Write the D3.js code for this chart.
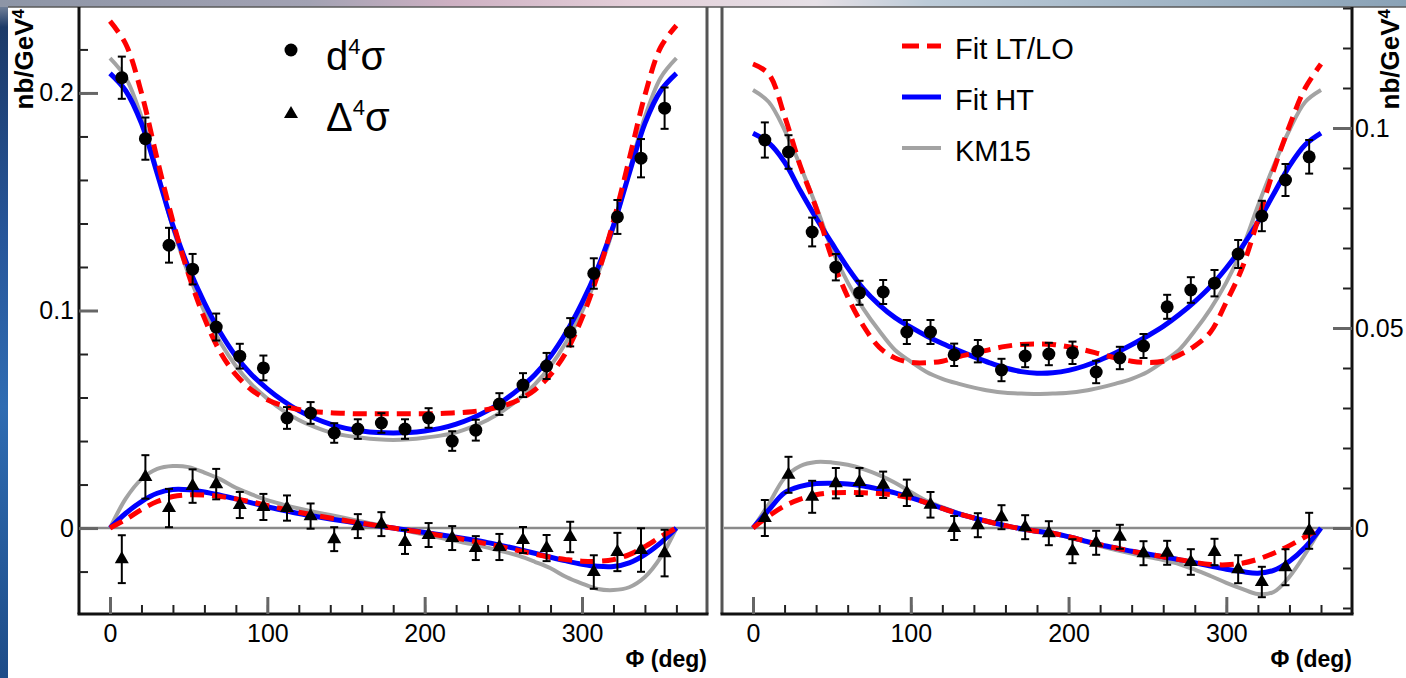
<!DOCTYPE html>
<html>
<head>
<meta charset="utf-8">
<script src="https://cdn.jsdelivr.net/npm/d3@7"></script>
<style>
body { margin: 0; background: #fff; }
svg { display: block; font-family: "Liberation Sans", Arial, Helvetica, sans-serif; }
</style>
</head>
<body>
<svg id="chart" width="1406" height="678"></svg>
<script>
// phi bin centres (deg)
var phiBins = [7.5, 22.5, 37.5, 52.5, 67.5, 82.5, 97.5, 112.5, 127.5, 142.5, 157.5, 172.5,
	187.5, 202.5, 217.5, 232.5, 247.5, 262.5, 277.5, 292.5, 307.5, 322.5, 337.5, 352.5];

// phi grid where the fit curves were read
var phiGrid = [0, 10, 20, 30, 40, 50, 60, 70, 80, 90, 100, 110, 120, 130, 140, 150, 160, 170, 180,
	190, 200, 210, 220, 230, 240, 250, 260, 270, 280, 290, 300, 310, 320, 330, 340, 350, 360];

// left panel : d4sigma points + errors
var leftSig = [0.207, 0.179, 0.130, 0.119, 0.0924, 0.079, 0.0736, 0.0506, 0.0529, 0.0437, 0.0455, 0.0483,
	0.0455, 0.0506, 0.040, 0.045, 0.057, 0.0657, 0.0745, 0.090, 0.117, 0.143, 0.170, 0.193];
var leftSigErr = [0.0097, 0.0097, 0.008, 0.007, 0.0062, 0.0057, 0.0057, 0.005, 0.005, 0.0045, 0.0045, 0.0045,
	0.0045, 0.0045, 0.0045, 0.0048, 0.005, 0.0055, 0.006, 0.0065, 0.007, 0.0078, 0.0088, 0.0095];
// left panel : Delta4sigma points + errors
var leftDel = [-0.0143, 0.0235, 0.0092, 0.0193, 0.0202, 0.0106, 0.0097, 0.0092, 0.0055, -0.0051, 0.0009, 0.0018,
	-0.0064, -0.0032, -0.0046, -0.0092, -0.0087, -0.0055, -0.0092, -0.0041, -0.0202, -0.011, -0.0101, -0.0115];
var leftDelErr = [0.011, 0.010, 0.0088, 0.0077, 0.007, 0.006, 0.006, 0.0058, 0.0058, 0.0055, 0.0055, 0.0055,
	0.0055, 0.0055, 0.0055, 0.0055, 0.006, 0.006, 0.006, 0.007, 0.0077, 0.0088, 0.010, 0.0107];

// left panel curves (d4sigma)
var leftSigLT = [0.233, 0.2225, 0.200, 0.1695, 0.141, 0.1165, 0.0965, 0.081, 0.0705, 0.0635, 0.059, 0.0562, 0.0545,
	0.0535, 0.053, 0.0527, 0.0525, 0.0525, 0.0525, 0.0525, 0.0525, 0.0527, 0.053, 0.0535, 0.0545, 0.0562,
	0.059, 0.0635, 0.0705, 0.081, 0.0965, 0.1165, 0.141, 0.1695, 0.199, 0.221, 0.231];
var leftSigHT = [0.209, 0.201, 0.186, 0.163, 0.139, 0.1195, 0.1035, 0.090, 0.079, 0.0705, 0.064, 0.0585, 0.054,
	0.0505, 0.0478, 0.0458, 0.0446, 0.0439, 0.0437, 0.0439, 0.0446, 0.0458, 0.0478, 0.0505, 0.054, 0.0585,
	0.064, 0.0705, 0.079, 0.090, 0.1035, 0.1195, 0.139, 0.163, 0.186, 0.201, 0.209];
var leftSigKM = [0.216, 0.207, 0.189, 0.164, 0.138, 0.1165, 0.0995, 0.0855, 0.0745, 0.066, 0.0595, 0.054, 0.0497,
	0.0465, 0.044, 0.0425, 0.0415, 0.0408, 0.0405, 0.0408, 0.0415, 0.0425, 0.044, 0.0465, 0.0497, 0.054,
	0.0595, 0.066, 0.0745, 0.0855, 0.0995, 0.1165, 0.138, 0.164, 0.189, 0.207, 0.216];
// left panel curves (Delta4sigma)
var leftDelLT = [0, 0.004, 0.0085, 0.0122, 0.0145, 0.0153, 0.0152, 0.0145, 0.0134, 0.012, 0.0104, 0.0088, 0.0073,
	0.0059, 0.0046, 0.0034, 0.0022, 0.0011, 0, -0.0011, -0.0022, -0.0034, -0.0046, -0.0059, -0.0073, -0.0088,
	-0.0104, -0.012, -0.0134, -0.0145, -0.0152, -0.0153, -0.0145, -0.0122, -0.0085, -0.004, 0];
var leftDelHT = [0, 0.0068, 0.0122, 0.016, 0.0177, 0.0176, 0.0166, 0.0151, 0.0134, 0.0116, 0.0098, 0.0082, 0.0067,
	0.0054, 0.0042, 0.0031, 0.002, 0.001, 0, -0.001, -0.002, -0.0031, -0.0042, -0.0054, -0.0067, -0.0082,
	-0.0098, -0.0116, -0.0134, -0.0151, -0.0166, -0.0176, -0.0177, -0.016, -0.0122, -0.0068, 0];
var leftDelKM = [0, 0.0135, 0.0225, 0.0272, 0.0285, 0.028, 0.0255, 0.0225, 0.0185, 0.0155, 0.0128, 0.0108, 0.009,
	0.0074, 0.006, 0.0045, 0.003, 0.0015, 0, -0.0015, -0.003, -0.0045, -0.006, -0.0074, -0.009, -0.0108,
	-0.0128, -0.0155, -0.0185, -0.0225, -0.0255, -0.028, -0.0285, -0.0272, -0.0225, -0.0135, 0];

// right panel : d4sigma points + errors
var rightSig = [0.097, 0.094, 0.074, 0.0652, 0.0588, 0.059, 0.049, 0.049, 0.0433, 0.0442, 0.0395, 0.043,
	0.0435, 0.0438, 0.039, 0.0425, 0.0455, 0.0553, 0.0595, 0.0612, 0.0685, 0.078, 0.087, 0.0928];
var rightSigErr = [0.0044, 0.0042, 0.0036, 0.0033, 0.003, 0.003, 0.003, 0.003, 0.0028, 0.0028, 0.0028, 0.0028,
	0.0028, 0.0028, 0.0028, 0.0028, 0.003, 0.003, 0.0032, 0.0033, 0.0035, 0.0038, 0.004, 0.0042];
// right panel : Delta4sigma points + errors
var rightDel = [0.0025, 0.0133, 0.0078, 0.0112, 0.0115, 0.0108, 0.0088, 0.0058, 0.0, 0.0007, 0.0027, 0.0002,
	-0.0013, -0.0058, -0.0037, -0.0022, -0.0063, -0.0062, -0.0085, -0.006, -0.0103, -0.0135, -0.0098, -0.0007];
var rightDelErr = [0.0045, 0.0045, 0.004, 0.0038, 0.0035, 0.0033, 0.0033, 0.0032, 0.003, 0.003, 0.003, 0.003,
	0.003, 0.003, 0.003, 0.003, 0.003, 0.003, 0.0032, 0.0033, 0.0035, 0.0038, 0.0045, 0.0045];

// right panel curves (d4sigma)
var rightSigLT = [0.116, 0.1135, 0.103, 0.0905, 0.080, 0.0675, 0.0578, 0.0505, 0.0452, 0.0425, 0.0414, 0.0413, 0.0417,
	0.0428, 0.0437, 0.0446, 0.0454, 0.0459, 0.046, 0.0459, 0.0453, 0.0445, 0.0435, 0.0425, 0.0417, 0.0414,
	0.0417, 0.0432, 0.0455, 0.049, 0.0565, 0.065, 0.077, 0.0895, 0.1005, 0.110, 0.116];
var rightSigHT = [0.0987, 0.0963, 0.0915, 0.0843, 0.0775, 0.0712, 0.0651, 0.0598, 0.0558, 0.0526, 0.0502, 0.048, 0.0461,
	0.0444, 0.0428, 0.0413, 0.040, 0.0391, 0.0387, 0.0388, 0.0394, 0.0405, 0.042, 0.0438, 0.0458, 0.048,
	0.0504, 0.0533, 0.0566, 0.0604, 0.065, 0.0703, 0.0765, 0.0835, 0.0905, 0.0958, 0.0987];
var rightSigKM = [0.1095, 0.1065, 0.0995, 0.0905, 0.0805, 0.0697, 0.0614, 0.0548, 0.0493, 0.0445, 0.0416, 0.039, 0.0373,
	0.0361, 0.0351, 0.0343, 0.0338, 0.0336, 0.0335, 0.0336, 0.0338, 0.0343, 0.0351, 0.0361, 0.0373, 0.039,
	0.0416, 0.0445, 0.0493, 0.0548, 0.0614, 0.0697, 0.0805, 0.0905, 0.0995, 0.1065, 0.1095];
// right panel curves (Delta4sigma)
var rightDelLT = [0, 0.003, 0.0055, 0.0072, 0.0083, 0.0088, 0.0089, 0.0088, 0.0086, 0.0082, 0.0075, 0.0063, 0.0049,
	0.0036, 0.0025, 0.0015, 0.0006, -0.0002, -0.0008, -0.0013, -0.0022, -0.0032, -0.0042, -0.005, -0.0058, -0.0065,
	-0.0072, -0.0079, -0.0086, -0.0091, -0.0092, -0.0088, -0.0078, -0.0063, -0.0044, -0.0022, 0];
var rightDelHT = [0, 0.0045, 0.0088, 0.0104, 0.0111, 0.0112, 0.011, 0.0105, 0.0097, 0.0088, 0.0076, 0.0063, 0.0049,
	0.0036, 0.0025, 0.0015, 0.0006, -0.0002, -0.0008, -0.0013, -0.0022, -0.0032, -0.0042, -0.005, -0.0058, -0.0065,
	-0.0072, -0.0079, -0.0087, -0.0095, -0.0103, -0.0109, -0.0113, -0.0106, -0.0083, -0.0048, 0];
var rightDelKM = [0, 0.006, 0.0125, 0.0155, 0.0165, 0.0164, 0.0158, 0.0147, 0.0132, 0.0113, 0.009, 0.0068, 0.0052,
	0.0038, 0.0026, 0.0015, 0.0006, -0.0002, -0.001, -0.0014, -0.0023, -0.0034, -0.0045, -0.0055, -0.0064, -0.0072,
	-0.008, -0.009, -0.0104, -0.012, -0.0137, -0.0152, -0.0165, -0.016, -0.0122, -0.0065, 0];

// axis ticks
var xMajor = [0, 100, 200, 300];
var xMinor = [0, 20, 40, 60, 80, 100, 120, 140, 160, 180, 200, 220, 240, 260, 280, 300, 320, 340, 360];
var leftYMajor = [0, 0.1, 0.2];
var leftYMinor = [-0.02, 0, 0.02, 0.04, 0.06, 0.08, 0.1, 0.12, 0.14, 0.16, 0.18, 0.2, 0.22];
var rightYMajor = [0, 0.05, 0.1];
var rightYMinor = [-0.02, -0.01, 0, 0.01, 0.02, 0.03, 0.04, 0.05, 0.06, 0.07, 0.08, 0.09, 0.1, 0.11, 0.12, 0.13];

// legend
var markerLabels = ["d", "\u0394"];
var curveLabels = ["Fit LT/LO", "Fit HT", "KM15"];

var RED = "#ff0000", BLUE = "#0000ff", GREY = "#a3a3a3";

Chart =
{
	svg: null,

	init()
	{
		this.svg = d3.select("#chart");
		this.background();

		// left panel, y axis on the left
		var left = {
			x0: 79, x1: 707, top: 7, bottom: 614,
			x: d3.scaleLinear().domain([0, 360]).range([110, 676.4]),
			y: d3.scaleLinear().domain([-0.0395, 0.2395]).range([614, 7]),
			side: "left", yMajor: leftYMajor, yMinor: leftYMinor
		};
		// right panel, y axis on the right
		var right = {
			x0: 722, x1: 1352, top: 7, bottom: 614,
			x: d3.scaleLinear().domain([0, 360]).range([753, 1321]),
			y: d3.scaleLinear().domain([-0.0215, 0.13025]).range([614, 7]),
			side: "right", yMajor: rightYMajor, yMinor: rightYMinor
		};

		this.draw_panel(left);
		this.draw_panel(right);

		this.draw_curves(left, [leftSigKM, leftSigHT, leftSigLT]);
		this.draw_curves(left, [leftDelKM, leftDelHT, leftDelLT]);
		this.draw_curves(right, [rightSigKM, rightSigHT, rightSigLT]);
		this.draw_curves(right, [rightDelKM, rightDelHT, rightDelLT]);

		this.draw_points(left, leftSig, leftSigErr, "circle");
		this.draw_points(left, leftDel, leftDelErr, "triangle");
		this.draw_points(right, rightSig, rightSigErr, "circle");
		this.draw_points(right, rightDel, rightDelErr, "triangle");

		this.draw_marker_legend();
		this.draw_curve_legend();
	},

	background()
	{
		var defs = this.svg.append("defs");
		var top = defs.append("linearGradient").attr("id", "topband");
		[[0, "#8d95a6"], [0.22, "#a2a2b3"], [0.32, "#cdb0c2"], [0.45, "#e4cfd9"], [0.58, "#e6e0e6"],
			[0.66, "#bccbd8"], [0.8, "#a6b9c9"], [1, "#8aa2b6"]].forEach(function(s){
			top.append("stop").attr("offset", s[0]).attr("stop-color", s[1]);
		});
		var side = defs.append("linearGradient").attr("id", "sideband")
			.attr("x1", 0).attr("y1", 0).attr("x2", 0).attr("y2", 1);
		[[0, "#8c96a8"], [0.04, "#1c3a68"], [0.35, "#27569a"], [0.6, "#2f6cb2"], [1, "#1d4c88"]].forEach(function(s){
			side.append("stop").attr("offset", s[0]).attr("stop-color", s[1]);
		});

		this.svg.append("rect").attr("width", 1406).attr("height", 678).attr("fill", "#fff");
		this.svg.append("rect").attr("x", 0).attr("y", 0).attr("width", 8).attr("height", 678).attr("fill", "url(#sideband)");
		this.svg.append("rect").attr("x", 0).attr("y", 0).attr("width", 1406).attr("height", 7).attr("fill", "url(#topband)");
		this.draw_line(8, 7, 1406, 7, "#5a5a5a", 1.5);
	},

	draw_line(x1, y1, x2, y2, color, width)
	{
		this.svg.append("line")
			.attr("x1", x1).attr("y1", y1)
			.attr("x2", x2).attr("y2", y2)
			.attr("stroke", color)
			.attr("stroke-width", width);
	},

	draw_panel(p)
	{
		var svg = this.svg;

		// frame
		this.draw_line(p.x0, p.top, p.x0, p.bottom, p.side == "left" ? "#111" : "#555", 3);
		this.draw_line(p.x1, p.top, p.x1, p.bottom, p.side == "left" ? "#555" : "#111", 3);
		this.draw_line(p.x0 - 1.5, p.bottom, p.x1 + 1.5, p.bottom, "#111", 3);

		// zero line
		this.draw_line(p.x0 + 2, p.y(0), p.x1 - 2, p.y(0), "#8a8a8a", 2.5);

		// x ticks (pointing up)
		var gx = svg.append("g").attr("transform", "translate(0," + p.bottom + ")");
		gx.call(d3.axisBottom(p.x).tickValues(xMinor).tickFormat("").tickSizeInner(-9).tickSizeOuter(0));
		gx.selectAll("line").attr("stroke", "#222").attr("stroke-width", 2);
		var gxm = svg.append("g").attr("transform", "translate(0," + p.bottom + ")");
		gxm.call(d3.axisBottom(p.x).tickValues(xMajor).tickSizeInner(-17).tickSizeOuter(0).tickPadding(10));
		gxm.selectAll("line").attr("stroke", "#666").attr("stroke-width", 3);
		gx.select(".domain").remove();
		gxm.select(".domain").remove();
		gxm.selectAll(".tick text").attr("font-size", 25).attr("fill", "#000")
			.attr("font-family", "Liberation Sans, Arial, sans-serif");

		// y ticks
		var ax = p.side == "left" ? d3.axisLeft : d3.axisRight;
		var yPos = "translate(" + (p.side == "left" ? p.x0 : p.x1) + ",0)";
		var gy = svg.append("g").attr("transform", yPos);
		gy.call(ax(p.y).tickValues(p.yMinor).tickFormat("").tickSizeInner(-9).tickSizeOuter(0));
		gy.selectAll("line").attr("stroke", "#222").attr("stroke-width", 2);
		var gym = svg.append("g").attr("transform", yPos);
		gym.call(ax(p.y).tickValues(p.yMajor).tickFormat(function(d){ return d == 0 ? "0" : String(d); })
			.tickSizeInner(-19).tickSizeOuter(0).tickPadding(p.side == "left" ? 5 : 3));
		gym.selectAll("line").attr("stroke", "#666").attr("stroke-width", 3);
		gy.select(".domain").remove();
		gym.select(".domain").remove();
		gym.selectAll(".tick text").attr("font-size", 25).attr("fill", "#000")
			.attr("font-family", "Liberation Sans, Arial, sans-serif");

		// axis titles
		svg.append("text")
			.attr("x", p.x1).attr("y", 667)
			.attr("text-anchor", "end")
			.attr("font-size", 23).attr("font-weight", "bold")
			.text("\u03a6 (deg)");

		var tx = p.side == "left" ? 33 : 1399;
		var yt = svg.append("text")
			.attr("transform", "translate(" + tx + ",9) rotate(-90)")
			.attr("text-anchor", "end")
			.attr("font-size", 26).attr("font-weight", "bold");
		yt.append("tspan").text("nb/GeV");
		yt.append("tspan").attr("dy", -9).attr("font-size", 17).text("4");
	},

	draw_curves(p, series)
	{
		var line = d3.line()
			.x(function(d, i){ return p.x(phiGrid[i]); })
			.y(function(d){ return p.y(d); })
			.curve(d3.curveCatmullRom);

		var styles = [
			{color: GREY, width: 4, dash: null},
			{color: BLUE, width: 5, dash: null},
			{color: RED, width: 5, dash: "14,8"}
		];
		for (let k = 0; k < series.length; k++){
			this.svg.append("path")
				.datum(series[k])
				.attr("d", line)
				.attr("fill", "none")
				.attr("stroke", styles[k].color)
				.attr("stroke-width", styles[k].width)
				.attr("stroke-dasharray", styles[k].dash);
		}
	},

	draw_points(p, values, errs, shape)
	{
		var g = this.svg.append("g");
		var tri = d3.symbol().type(d3.symbolTriangle).size(85);

		for (let i = 0; i < values.length; i++){
			var cx = p.x(phiBins[i]);
			var yLo = p.y(values[i] - errs[i]);
			var yHi = p.y(values[i] + errs[i]);

			// error bar with small caps
			g.append("line").attr("x1", cx).attr("x2", cx).attr("y1", yLo).attr("y2", yHi)
				.attr("stroke", "#000").attr("stroke-width", 2);
			g.append("line").attr("x1", cx - 4).attr("x2", cx + 4).attr("y1", yLo).attr("y2", yLo)
				.attr("stroke", "#000").attr("stroke-width", 2);
			g.append("line").attr("x1", cx - 4).attr("x2", cx + 4).attr("y1", yHi).attr("y2", yHi)
				.attr("stroke", "#000").attr("stroke-width", 2);

			if (shape == "circle"){
				g.append("circle").attr("cx", cx).attr("cy", p.y(values[i])).attr("r", 6.5).attr("fill", "#000");
			}
			else {
				g.append("path").attr("d", tri)
					.attr("transform", "translate(" + cx + "," + p.y(values[i]) + ")")
					.attr("fill", "#000");
			}
		}
	},

	draw_marker_legend()
	{
		var svg = this.svg;
		var rows = [{y: 50, base: 70}, {y: 114, base: 131}];

		svg.append("circle").attr("cx", 291).attr("cy", rows[0].y).attr("r", 6.5).attr("fill", "#000");
		svg.append("path").attr("d", d3.symbol().type(d3.symbolTriangle).size(85))
			.attr("transform", "translate(291," + rows[1].y + ")").attr("fill", "#000");

		for (let i = 0; i < markerLabels.length; i++){
			var t = svg.append("text").attr("x", 326).attr("y", rows[i].base).attr("font-size", 40);
			t.append("tspan").text(markerLabels[i]);
			t.append("tspan").attr("dy", -16).attr("font-size", 22).text("4");
			t.append("tspan").attr("dy", 16).text("\u03c3");
		}
	},

	draw_curve_legend()
	{
		var svg = this.svg;
		var styles = [
			{color: RED, width: 5, dash: "17,8"},
			{color: BLUE, width: 5, dash: null},
			{color: GREY, width: 4, dash: null}
		];
		for (let i = 0; i < curveLabels.length; i++){
			var ly = 46 + i * 51;
			svg.append("line")
				.attr("x1", 902).attr("x2", 941).attr("y1", ly).attr("y2", ly)
				.attr("stroke", styles[i].color)
				.attr("stroke-width", styles[i].width)
				.attr("stroke-dasharray", styles[i].dash);
			svg.append("text")
				.attr("x", 955).attr("y", ly + 13)
				.attr("font-size", 29)
				.text(curveLabels[i]);
		}
	}
}

Chart.init();
</script>
</body>
</html>
